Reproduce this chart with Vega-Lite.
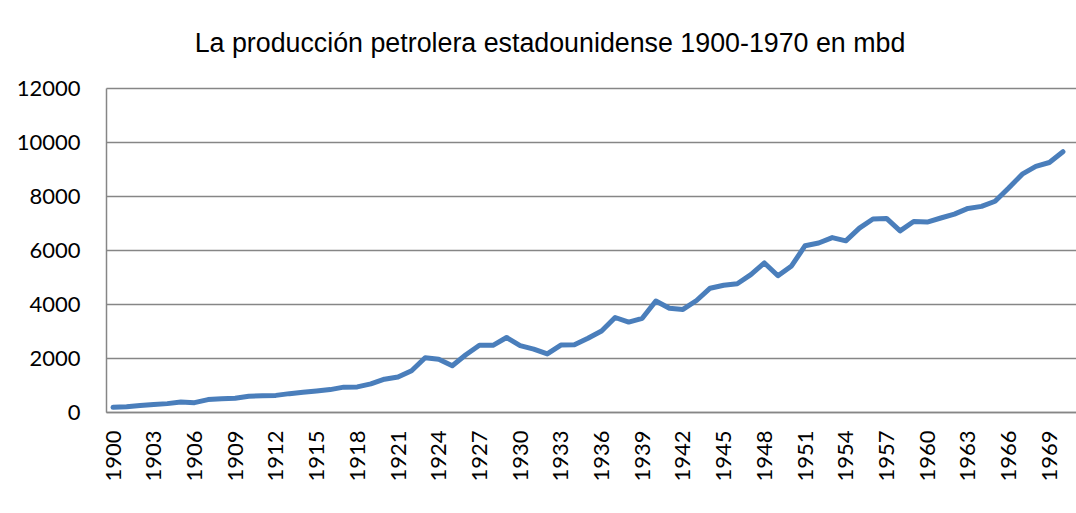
{
  "$schema": "https://vega.github.io/schema/vega-lite/v6.json",
  "autosize": {"type": "none"},
  "width": 970,
  "height": 324,
  "padding": {"left": 106, "top": 88, "right": 0, "bottom": 101},
  "background": "white",
  "title": {
    "text": "La producción petrolera estadounidense 1900-1970 en mbd",
    "font": "Liberation Sans",
    "fontSize": 26.8,
    "fontWeight": "normal",
    "color": "#000000",
    "anchor": "middle",
    "dx": -41,
    "baseline": "alphabetic",
    "offset": 33,
    "dy": 35
  },
  "data": {
    "values": [
      {"year": 1900, "mbd": 174}, {"year": 1901, "mbd": 195}, {"year": 1902, "mbd": 240},
      {"year": 1903, "mbd": 275}, {"year": 1904, "mbd": 310}, {"year": 1905, "mbd": 370},
      {"year": 1906, "mbd": 346}, {"year": 1907, "mbd": 460}, {"year": 1908, "mbd": 495},
      {"year": 1909, "mbd": 510}, {"year": 1910, "mbd": 580}, {"year": 1911, "mbd": 605},
      {"year": 1912, "mbd": 615}, {"year": 1913, "mbd": 680}, {"year": 1914, "mbd": 730},
      {"year": 1915, "mbd": 775}, {"year": 1916, "mbd": 830}, {"year": 1917, "mbd": 920},
      {"year": 1918, "mbd": 930}, {"year": 1919, "mbd": 1040}, {"year": 1920, "mbd": 1215},
      {"year": 1921, "mbd": 1295}, {"year": 1922, "mbd": 1530}, {"year": 1923, "mbd": 2010},
      {"year": 1924, "mbd": 1950}, {"year": 1925, "mbd": 1715}, {"year": 1926, "mbd": 2120},
      {"year": 1927, "mbd": 2470}, {"year": 1928, "mbd": 2470}, {"year": 1929, "mbd": 2760},
      {"year": 1930, "mbd": 2460}, {"year": 1931, "mbd": 2330}, {"year": 1932, "mbd": 2150},
      {"year": 1933, "mbd": 2480}, {"year": 1934, "mbd": 2490}, {"year": 1935, "mbd": 2730},
      {"year": 1936, "mbd": 3000}, {"year": 1937, "mbd": 3500}, {"year": 1938, "mbd": 3330},
      {"year": 1939, "mbd": 3470}, {"year": 1940, "mbd": 4110}, {"year": 1941, "mbd": 3840},
      {"year": 1942, "mbd": 3800}, {"year": 1943, "mbd": 4130}, {"year": 1944, "mbd": 4585},
      {"year": 1945, "mbd": 4695}, {"year": 1946, "mbd": 4750}, {"year": 1947, "mbd": 5090},
      {"year": 1948, "mbd": 5520}, {"year": 1949, "mbd": 5045}, {"year": 1950, "mbd": 5410},
      {"year": 1951, "mbd": 6160}, {"year": 1952, "mbd": 6260}, {"year": 1953, "mbd": 6460},
      {"year": 1954, "mbd": 6340}, {"year": 1955, "mbd": 6810}, {"year": 1956, "mbd": 7150},
      {"year": 1957, "mbd": 7170}, {"year": 1958, "mbd": 6710}, {"year": 1959, "mbd": 7055},
      {"year": 1960, "mbd": 7035}, {"year": 1961, "mbd": 7185}, {"year": 1962, "mbd": 7330},
      {"year": 1963, "mbd": 7540}, {"year": 1964, "mbd": 7615}, {"year": 1965, "mbd": 7805},
      {"year": 1966, "mbd": 8295}, {"year": 1967, "mbd": 8810}, {"year": 1968, "mbd": 9095},
      {"year": 1969, "mbd": 9240}, {"year": 1970, "mbd": 9640}
    ]
  },
  "mark": {"type": "line", "color": "#4A7EBB", "strokeWidth": 5, "strokeCap": "round", "strokeJoin": "round"},
  "encoding": {
    "x": {
      "field": "year",
      "type": "ordinal",
      "scale": {"type": "point", "padding": 0.74, "align": 0.35},
      "axis": {
        "title": null,
        "values": [1900,1903,1906,1909,1912,1915,1918,1921,1924,1927,1930,1933,1936,1939,1942,1945,1948,1951,1954,1957,1960,1963,1966,1969],
        "labelAngle": -90,
        "labelFont": "Lato",
        "labelFontSize": 22,
        "labelColor": "#000000",
        "labelPadding": 18,
        "ticks": false,
        "grid": false,
        "domainColor": "#868686",
        "domainWidth": 1.5,
        "labelOverlap": false
      }
    },
    "y": {
      "field": "mbd",
      "type": "quantitative",
      "scale": {"domain": [0, 12000], "nice": false},
      "axis": {
        "title": null,
        "values": [0, 2000, 4000, 6000, 8000, 10000, 12000],
        "format": "d",
        "labelFont": "Lato",
        "labelFontSize": 22,
        "labelColor": "#000000",
        "labelPadding": 26,
        "ticks": false,
        "grid": true,
        "gridColor": "#868686",
        "gridWidth": 1.5,
        "domainColor": "#868686",
        "domainWidth": 1.5
      }
    }
  },
  "config": {
    "view": {"stroke": null}
  }
}
